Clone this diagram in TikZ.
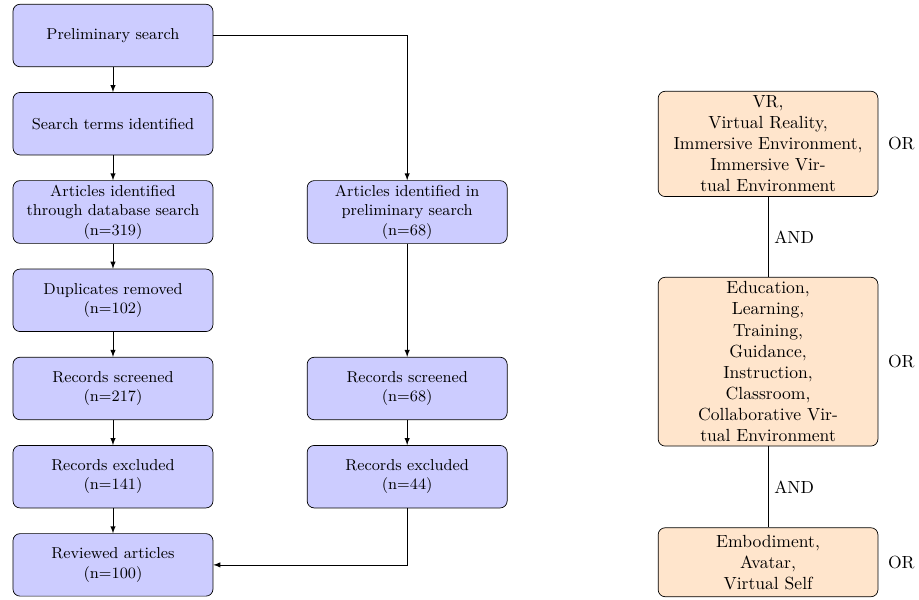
\documentclass[tikz,border=0pt]{standalone}
\usepackage{tikz}
\usetikzlibrary{shapes,arrows,positioning,calc}

\tikzset{
    process/.style={rectangle, rounded corners, draw=black, fill=blue!20,
        minimum width=4cm, minimum height=1.25cm, text width=3.5cm,
        align=center, font=\small, inner sep=2.5pt},
    terms/.style={rectangle, rounded corners, draw=black, fill=orange!20,
        minimum height=1.38cm, text width=4.22cm, align=center, inner sep=2.5pt},
    arrow/.style={-latex}
}

\begin{document}
\begin{tikzpicture}[node distance=0.5cm]
    \useasboundingbox (0,0) rectangle (523pt,-341pt);

    % Search flow, left column
    \node[process] (prelim) at (64.3pt,-20.2pt) {Preliminary search};
    \node[process, below=of prelim] (terms) {Search terms identified};
    \node[process, below=of terms] (dbsearch) {Articles identified\\ through database search\\ (n=319)};
    \node[process, below=of dbsearch] (dupl) {Duplicates removed\\ (n=102)};
    \node[process, below=of dupl] (screenA) {Records screened\\ (n=217)};
    \node[process, below=of screenA] (exclA) {Records excluded\\ (n=141)};
    \node[process, below=of exclA] (reviewed) {Reviewed articles\\ (n=100)};

    % Search flow, right column
    \node[process, right=1.87cm of dbsearch] (prelimart) {Articles identified in preliminary search\\ (n=68)};
    \node[process, right=1.87cm of screenA] (screenB) {Records screened\\ (n=68)};
    \node[process, right=1.87cm of exclA] (exclB) {Records excluded\\ (n=44)};

    \draw[arrow] (prelim) -- (terms);
    \draw[arrow] (terms) -- (dbsearch);
    \draw[arrow] (dbsearch) -- (dupl);
    \draw[arrow] (dupl) -- (screenA);
    \draw[arrow] (screenA) -- (exclA);
    \draw[arrow] (exclA) -- (reviewed);
    \draw[arrow] (prelim.east) -| (prelimart.north);
    \draw[arrow] (prelimart) -- (screenB);
    \draw[arrow] (screenB) -- (exclB);
    \draw[arrow] (exclB.south) |- (reviewed.east);

    % Search terms
    \node[terms] (vr) at (437.1pt,-81.9pt) {VR,\\ Virtual Reality,\\ Immersive Environment,\\ Immersive Virtual Environment};
    \node[terms, below=1.6cm of vr] (edu) {Education,\\ Learning,\\ Training,\\ Guidance,\\ Instruction,\\ Classroom,\\ Collaborative Virtual Environment};
    \node[terms, below=1.62cm of edu] (embod) {Embodiment,\\ Avatar,\\ Virtual Self};
    \node[right=2pt of vr] (orA) {OR};
    \node[right=2pt of edu] (orB) {OR};
    \node[right=2pt of embod] (orC) {OR};

    \draw (vr) -- node[right] {AND} (edu);
    \draw (edu) -- node[right] {AND} (embod);
\end{tikzpicture}
\end{document}
